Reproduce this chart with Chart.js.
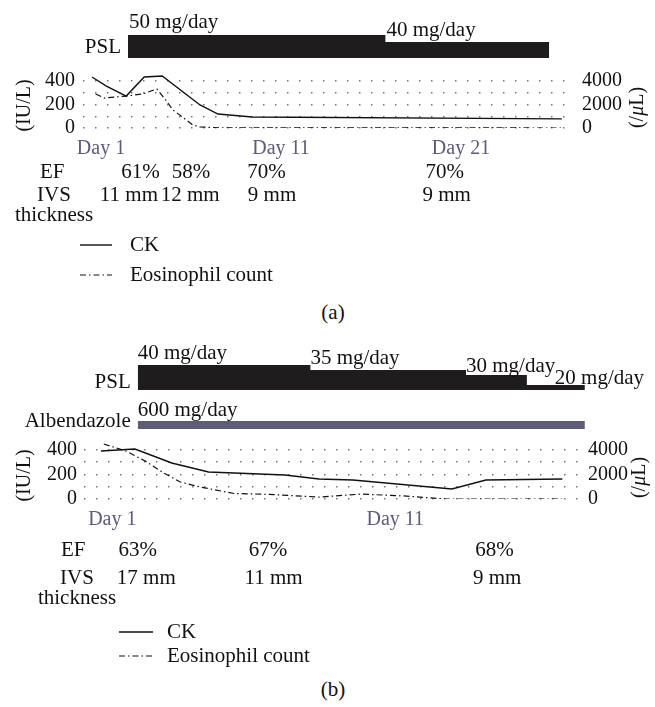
<!DOCTYPE html>
<html>
<head>
<meta charset="utf-8">
<script src="https://cdn.jsdelivr.net/npm/chart.js@4.4.1/dist/chart.umd.min.js"></script>
<style>
  body { margin: 0; background: #fff; }
  #page { position: relative; width: 655px; height: 707px; font-family: "Liberation Serif", serif; }
  canvas { position: absolute; left: 0; }
  .cap { position: absolute; font-size: 21px; line-height: 23px; width: 60px; text-align: center; color: #111; }
</style>
</head>
<body>
<div id="page">
  <canvas id="doseA" width="655" height="60" style="top:0px"></canvas>
  <canvas id="labA" width="655" height="230" style="top:62px"></canvas>
  <div class="cap" style="left:303px; top:301px">(a)</div>
  <canvas id="doseB" width="655" height="57" style="top:335px"></canvas>
  <canvas id="albB" width="655" height="36" style="top:395px"></canvas>
  <canvas id="labB" width="655" height="234" style="top:436px"></canvas>
  <div class="cap" style="left:303px; top:678px">(b)</div>
</div>
<script>
// ---------- panel (a) ----------
const pslDaysA = [2.5, 16.8, 25.9];        // step starts, last = end of treatment
const pslDoseA = [50, 40];
const dayTicksA = [1, 11, 21];
const ckDaysA = [0.5, 1.3, 2.4, 3.4, 4.4, 6.5, 7.5, 9.4, 26.6];
const ckA = [434, 357, 272, 434, 442, 196, 119, 94, 78];
const eosDaysA = [0.7, 1.2, 2.4, 3.3, 4.1, 4.6, 5.0, 5.6, 6.1, 6.5, 7.5, 26.6];
const eosA = [2890, 2550, 2720, 2890, 3320, 2380, 1530, 850, 260, 90, 20, 0];
const efDaysA = [3.2, 6.0, 10.2, 20.1];
const efA = ['61%', '58%', '70%', '70%'];
const ivsDaysA = [2.55, 5.95, 10.5, 20.2];
const ivsA = ['11 mm', '12 mm', '9 mm', '9 mm'];

// ---------- panel (b) ----------
const pslDaysB = [1.9, 8.0, 13.5, 15.65, 17.7];
const pslDoseB = [40, 35, 30, 20];
const albDaysB = [1.9, 17.7];
const albDoseB = [600];
const dayTicksB = [1, 11];
const ckDaysB = [0.6, 1.8, 3.1, 4.4, 7.1, 8.3, 9.5, 13.0, 14.2, 16.9];
const ckB = [392, 408, 294, 220, 196, 163, 155, 82, 155, 163];
const eosDaysB = [0.7, 1.5, 2.2, 2.8, 3.4, 4.1, 5.3, 6.5, 8.3, 9.8, 11.3, 12.8, 16.9];
const eosB = [4490, 3900, 3050, 2150, 1390, 980, 450, 380, 160, 400, 250, 0, 0];
const efDaysB = [1.9, 6.5, 14.5];
const efB = ['63%', '67%', '68%'];
const ivsDaysB = [2.2, 6.7, 14.6];
const ivsB = ['17 mm', '11 mm', '9 mm'];

const ckTicks = [0, 100, 200, 300, 400];
const eosTicks = [0, 2000, 4000];

const FONT = '"Liberation Serif", "Times New Roman", serif';
const TEXT = '21px ' + FONT;
Chart.defaults.font.family = FONT;
Chart.defaults.font.size = 20;
Chart.defaults.color = '#111';

function pts(xs, ys) { return xs.map((x, i) => ({ x: x, y: ys[i] })); }
function stepPts(days, doses) {
    const p = doses.map((d, i) => ({ x: days[i], y: d }));
    p.push({ x: days[days.length - 1], y: doses[doses.length - 1] });
    return p;
}
// keep the chart area where the layout says, labels may overhang
function noPad(s) { s.paddingTop = 0; s.paddingBottom = 0; s.paddingLeft = 0; s.paddingRight = 0; }

// dose bar (stepped filled line) with its text
function makeDose(id, c) {
    const textPlugin = {
        id: 'doseText',
        afterDraw(chart) {
            const ctx = chart.ctx, x = chart.scales.x, y = chart.scales.y;
            ctx.save();
            ctx.font = TEXT;
            ctx.fillStyle = '#111';
            ctx.textAlign = 'left';
            ctx.textBaseline = 'alphabetic';
            c.doses.forEach((d, i) => {
                const off = c.offsets[i];
                ctx.fillText(d + ' mg/day', x.getPixelForValue(c.days[i]) + off[0], y.getPixelForValue(d) + off[1]);
            });
            ctx.textAlign = 'right';
            ctx.textBaseline = 'middle';
            ctx.fillText(c.row, x.getPixelForValue(c.days[0]) - 7, c.rowY - c.top);
            ctx.restore();
        }
    };
    new Chart(document.getElementById(id), {
        type: 'line',
        data: {
            datasets: [{
                data: stepPts(c.days, c.doses),
                stepped: true,
                fill: 'origin',
                backgroundColor: c.color,
                borderWidth: 0,
                pointRadius: 0
            }]
        },
        options: {
            responsive: false,
            animation: false,
            layout: { padding: { left: c.left, right: c.right, top: 0, bottom: 2 } },
            plugins: { legend: { display: false }, tooltip: { enabled: false } },
            scales: {
                x: { type: 'linear', display: false, min: 0, max: c.xMax },
                y: { display: false, min: c.yMin, max: c.yMax }
            }
        },
        plugins: [textPlugin]
    });
}

// CK / eosinophil chart with EF, IVS and legend texts
function makeLab(id, c) {
    const notes = {
        id: 'notes',
        afterDraw(chart) {
            const ctx = chart.ctx, x = chart.scales.x, ck = chart.scales.ck;
            const t = c.top;
            ctx.save();
            ctx.font = '20px ' + FONT;
            ctx.fillStyle = '#111';
            ctx.textBaseline = 'middle';

            // axis titles
            const midY = (ck.getPixelForValue(0) + ck.getPixelForValue(400)) / 2 + 1;
            ctx.save();
            ctx.translate(c.leftTitleX, midY);
            ctx.rotate(-Math.PI / 2);
            ctx.textAlign = 'center';
            ctx.fillText('(IU/L)', 0, 0);
            ctx.restore();
            ctx.save();
            ctx.translate(c.rightTitleX, midY + 2);
            ctx.rotate(-Math.PI / 2);
            const parts = [['(/', ''], ['\u03bc', 'italic '], ['L)', '']];
            let w = 0;
            parts.forEach(p => { ctx.font = p[1] + '20px ' + FONT; w += ctx.measureText(p[0]).width; });
            let px = -w / 2;
            ctx.textAlign = 'left';
            parts.forEach(p => { ctx.font = p[1] + '20px ' + FONT; ctx.fillText(p[0], px, 0); px += ctx.measureText(p[0]).width; });
            ctx.restore();

            // EF and IVS rows
            ctx.font = TEXT;
            ctx.textAlign = 'left';
            ctx.fillText('EF', c.efX, c.efY - t);
            ctx.textAlign = 'center';
            ctx.fillText('IVS', c.ivsX, c.ivsY - t);
            ctx.fillText('thickness', c.ivsX, c.thickY - t);
            c.efDays.forEach((d, i) => ctx.fillText(c.ef[i], x.getPixelForValue(d), c.efY - t));
            c.ivsDays.forEach((d, i) => ctx.fillText(c.ivs[i], x.getPixelForValue(d), c.ivsY - t));

            // legend
            ctx.textAlign = 'left';
            chart.data.datasets.forEach((ds, i) => {
                const ly = c.legendY[i] - t;
                ctx.save();
                ctx.strokeStyle = ds.borderColor;
                ctx.lineWidth = ds.borderWidth;
                ctx.setLineDash(ds.borderDash || []);
                ctx.beginPath();
                ctx.moveTo(c.legendX[0], ly);
                ctx.lineTo(c.legendX[1], ly);
                ctx.stroke();
                ctx.restore();
                ctx.fillText(ds.label, c.legendX[2], ly);
            });
            ctx.restore();
        }
    };

    new Chart(document.getElementById(id), {
        type: 'line',
        data: {
            datasets: [
                { label: 'CK', data: pts(c.ckDays, c.ck), yAxisID: 'ck', borderColor: '#111', borderWidth: 1.4, pointRadius: 0, tension: 0 },
                { label: 'Eosinophil count', data: pts(c.eosDays, c.eos), yAxisID: 'eos', borderColor: '#111', borderWidth: 1.2, borderDash: [6, 3, 1.5, 3], pointRadius: 0, tension: 0 }
            ]
        },
        options: {
            responsive: false,
            animation: false,
            layout: { padding: { left: 0, right: 0, top: c.padTop, bottom: c.padBottom } },
            plugins: { legend: { display: false }, tooltip: { enabled: false } },
            scales: {
                x: {
                    type: 'linear', min: 0, max: c.xMax,
                    grid: { display: false, drawTicks: false },
                    border: { display: false },
                    afterBuildTicks: s => { s.ticks = c.dayTicks.map(v => ({ value: v })); },
                    afterFit: s => { s.height = 36; noPad(s); },
                    ticks: { padding: 9, autoSkip: false, maxRotation: 0, color: '#5d5b7a', callback: v => 'Day ' + v }
                },
                ck: {
                    position: 'left', min: 0, max: c.ckMax,
                    grid: { color: '#777', lineWidth: 1.5, drawTicks: false, borderDash: [1.5, 10.5] },
                    border: { display: false, dash: [1.5, 10.5] },
                    afterBuildTicks: s => { s.ticks = ckTicks.map(v => ({ value: v })); },
                    afterFit: s => { s.width = c.leftW; noPad(s); },
                    ticks: { padding: c.leftPad, autoSkip: false, callback: v => (v % 200 === 0 ? String(v) : '') }
                },
                eos: {
                    position: 'right', min: 0, max: c.ckMax * 10,
                    grid: { display: false, drawTicks: false },
                    border: { display: false },
                    afterBuildTicks: s => { s.ticks = eosTicks.map(v => ({ value: v })); },
                    afterFit: s => { s.width = c.rightW; noPad(s); },
                    ticks: { padding: c.rightPad, autoSkip: false, callback: v => String(v) }
                }
            }
        },
        plugins: [notes]
    });
}

// ---------- build (a) ----------
makeDose('doseA', {
    top: 0, left: 83, right: 86, xMax: 27.0, yMin: 17, yMax: 100,
    days: pslDaysA, doses: pslDoseA, color: '#1e1c1c',
    offsets: [[1, -7], [1, -6]], row: 'PSL', rowY: 47
});
makeLab('labA', {
    top: 62, padTop: 10, padBottom: 128, xMax: 27.0, ckMax: 476.6,
    leftW: 83, rightW: 86, leftPad: 8, rightPad: 13,
    leftTitleX: 25, rightTitleX: 638,
    dayTicks: dayTicksA, ckDays: ckDaysA, ck: ckA, eosDays: eosDaysA, eos: eosA,
    efDays: efDaysA, ef: efA, ivsDays: ivsDaysA, ivs: ivsA,
    efX: 40, efY: 172, ivsX: 54, ivsY: 195, thickY: 215,
    legendX: [80, 112, 130], legendY: [245, 275]
});

// ---------- build (b) ----------
makeDose('doseB', {
    top: 335, left: 84, right: 69, xMax: 17.74, yMin: 15, yMax: 70,
    days: pslDaysB, doses: pslDoseB, color: '#1e1c1c',
    offsets: [[0, -6], [0, -6], [0, -3], [28, -1]], row: 'PSL', rowY: 382
});
makeDose('albB', {
    top: 395, left: 84, right: 69, xMax: 17.74, yMin: 0, yMax: 2550,
    days: albDaysB, doses: albDoseB, color: '#5e5c76',
    offsets: [[0, -5]], row: 'Albendazole', rowY: 421
});
makeLab('labB', {
    top: 436, padTop: 4, padBottom: 135, xMax: 17.49, ckMax: 481.6,
    leftW: 84, rightW: 76, leftPad: 7, rightPad: 9,
    leftTitleX: 25, rightTitleX: 640,
    dayTicks: dayTicksB, ckDays: ckDaysB, ck: ckB, eosDays: eosDaysB, eos: eosB,
    efDays: efDaysB, ef: efB, ivsDays: ivsDaysB, ivs: ivsB,
    efX: 61, efY: 550, ivsX: 77, ivsY: 578, thickY: 598,
    legendX: [119, 153, 167], legendY: [632, 656]
});
</script>
</body>
</html>
